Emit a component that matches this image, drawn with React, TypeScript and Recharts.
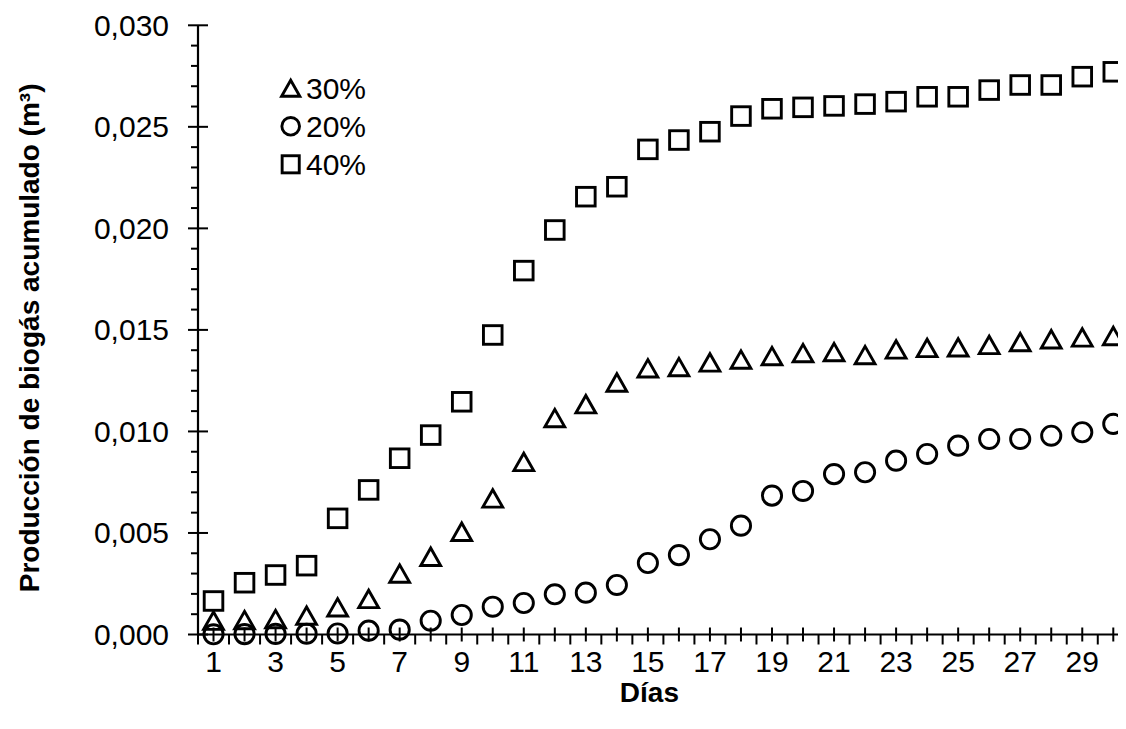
import { LineChart, Line, XAxis, YAxis, Legend } from "recharts";

const days = [1, 2, 3, 4, 5, 6, 7, 8, 9, 10, 11, 12, 13, 14, 15, 16, 17, 18, 19, 20, 21, 22, 23, 24, 25, 26, 27, 28, 29, 30];

// 30 %
const biogas30 = [
  0.00068, 0.00071, 0.00076, 0.00093, 0.00134, 0.00175, 0.003, 0.00383, 0.00506, 0.0067,
  0.0085, 0.01066, 0.01134, 0.01241, 0.01311, 0.01317, 0.0134, 0.01354, 0.01371, 0.01386,
  0.01391, 0.01376, 0.01404, 0.01411, 0.01414, 0.01426, 0.0144, 0.01454, 0.01463, 0.0147,
];
// 20 %
const biogas20 = [
  0.00001, 0.00002, 0.00003, 0.00004, 0.00005, 0.00019, 0.00024, 0.00068, 0.00096, 0.00137,
  0.00155, 0.00198, 0.00206, 0.00244, 0.00352, 0.00391, 0.00469, 0.00536, 0.00684, 0.00707,
  0.0079, 0.00799, 0.00856, 0.00889, 0.0093, 0.00963, 0.00963, 0.00979, 0.00996, 0.01037,
];
// 40 %
const biogas40 = [
  0.00165, 0.00255, 0.00293, 0.00339, 0.00572, 0.00712, 0.00868, 0.00982, 0.01146, 0.01475,
  0.01792, 0.01992, 0.02156, 0.02205, 0.02389, 0.02435, 0.02476, 0.02553, 0.02589, 0.02596,
  0.02603, 0.02612, 0.02624, 0.02648, 0.02648, 0.02681, 0.02706, 0.02706, 0.02747, 0.02771,
];

const yMajorTicks = [0, 0.005, 0.01, 0.015, 0.02, 0.025, 0.03];
const xLabelDays = [1, 3, 5, 7, 9, 11, 13, 15, 17, 19, 21, 23, 25, 27, 29];

const series = [
  { key: "s30", name: "30%", shape: "triangle" },
  { key: "s20", name: "20%", shape: "circle" },
  { key: "s40", name: "40%", shape: "square" },
];

const data = days.map((d, i) => ({ day: d, s30: biogas30[i], s20: biogas20[i], s40: biogas40[i] }));

// minor ticks every 0.001 on y, every half day on x
const yTicks = Array.from({ length: 31 }, (_, i) => Number((i / 1000).toFixed(3)));
const xTicks = Array.from({ length: 61 }, (_, i) => 0.5 + i * 0.5);

const FONT = "'Liberation Sans', Arial, sans-serif";
const INK = "#000";
const fmt = (v: number) => v.toFixed(3).replace(".", ",");

function Marker({ shape, cx, cy, size = 1 }: { shape: string; cx: number; cy: number; size?: number }) {
  const sw = 2.9;
  if (shape === "circle") return <circle cx={cx} cy={cy} r={9.6 * size} fill="none" stroke={INK} strokeWidth={sw} />;
  if (shape === "square") {
    const h = 9.3 * size;
    return <rect x={cx - h} y={cy - h} width={2 * h} height={2 * h} fill="none" stroke={INK} strokeWidth={sw} />;
  }
  const w = 9.9 * size;
  const h = 8.7 * size;
  return <polygon points={`${cx - w},${cy + h} ${cx + w},${cy + h} ${cx},${cy - h}`} fill="none" stroke={INK} strokeWidth={sw} />;
}

const YTick = ({ x, y, payload }: any) => {
  const v = payload.value;
  const major = yMajorTicks.some((t) => Math.abs(t - v) < 1e-9);
  if (!major) return <line x1={x - 7} x2={x} y1={y} y2={y} stroke={INK} strokeWidth={2} />;
  return (
    <g>
      <line x1={x - 10} x2={x + 10} y1={y} y2={y} stroke={INK} strokeWidth={2} />
      <text x={x - 29} y={y + 10.5} textAnchor="end" fontFamily={FONT} fontSize={30} fill={INK}>
        {fmt(v)}
      </text>
    </g>
  );
};

const XTick = ({ x, y, payload }: any) => {
  const v = payload.value;
  if (!Number.isInteger(v)) return <line x1={x} x2={x} y1={y} y2={y + 10} stroke={INK} strokeWidth={2} />;
  return (
    <g>
      <line x1={x} x2={x} y1={y - 7} y2={y + 7} stroke={INK} strokeWidth={2} />
      {xLabelDays.includes(v) && (
        <text x={x} y={y + 37} textAnchor="middle" fontFamily={FONT} fontSize={30} fill={INK}>
          {v}
        </text>
      )}
    </g>
  );
};

const renderLegend = () => (
  <svg width={160} height={120} style={{ display: "block", overflow: "visible" }}>
    {series.map((s, i) => (
      <g key={s.key}>
        <Marker shape={s.shape} cx={12.7} cy={14.3 + i * 38} size={0.92} />
        <text x={28} y={24.5 + i * 38} fontFamily={FONT} fontSize={30} fill={INK}>
          {s.name}
        </text>
      </g>
    ))}
  </svg>
);

export default function App() {
  return (
    <div style={{ width: 1118, height: 721, overflow: "hidden", background: "#fff" }}>
      <LineChart width={1125} height={721} data={data} margin={{ top: 17.3, right: 4.2, bottom: 4.5, left: 0 }}>
        <XAxis
          dataKey="day"
          type="number"
          domain={[0.5, 30.5]}
          ticks={xTicks}
          interval={0}
          tickSize={0}
          tickMargin={0}
          tickLine={false}
          tick={<XTick />}
          height={90}
          axisLine={{ stroke: INK, strokeWidth: 2.2 }}
          label={{
            value: "Días",
            content: ({ viewBox }: any) => (
              <text x={viewBox.x + viewBox.width / 2 - 14} y={viewBox.y + 67} textAnchor="middle" fontFamily={FONT} fontSize={28} fontWeight="bold" fill={INK}>
                Días
              </text>
            ),
          }}
        />
        <YAxis
          type="number"
          domain={[0, 0.03]}
          ticks={yTicks}
          interval={0}
          tickSize={0}
          tickMargin={0}
          tickLine={false}
          tick={<YTick />}
          width={190}
          axisLine={{ stroke: INK, strokeWidth: 2.2 }}
          label={{
            value: "Producción de biogás acumulado (m³)",
            content: ({ viewBox }: any) => (
              <text
                transform={`translate(31, ${viewBox.y + viewBox.height / 2 + 8}) rotate(-90)`}
                textAnchor="middle"
                fontFamily={FONT}
                fontSize={28}
                fontWeight="bold"
                fill={INK}
              >
                Producción de biogás acumulado (m³)
              </text>
            ),
          }}
        />
        <Legend
          layout="vertical"
          align="center"
          verticalAlign="middle"
          content={renderLegend}
          wrapperStyle={{ position: "absolute", left: 270, top: 66, width: 160, height: 120 }}
        />
        {series.map((s) => (
          <Line
            key={s.key}
            dataKey={s.key}
            name={s.name}
            stroke="none"
            isAnimationActive={false}
            activeDot={false}
            dot={(p: any) => <Marker key={`${s.key}-${p.index}`} shape={s.shape} cx={p.cx} cy={p.cy} />}
          />
        ))}
      </LineChart>
    </div>
  );
}
